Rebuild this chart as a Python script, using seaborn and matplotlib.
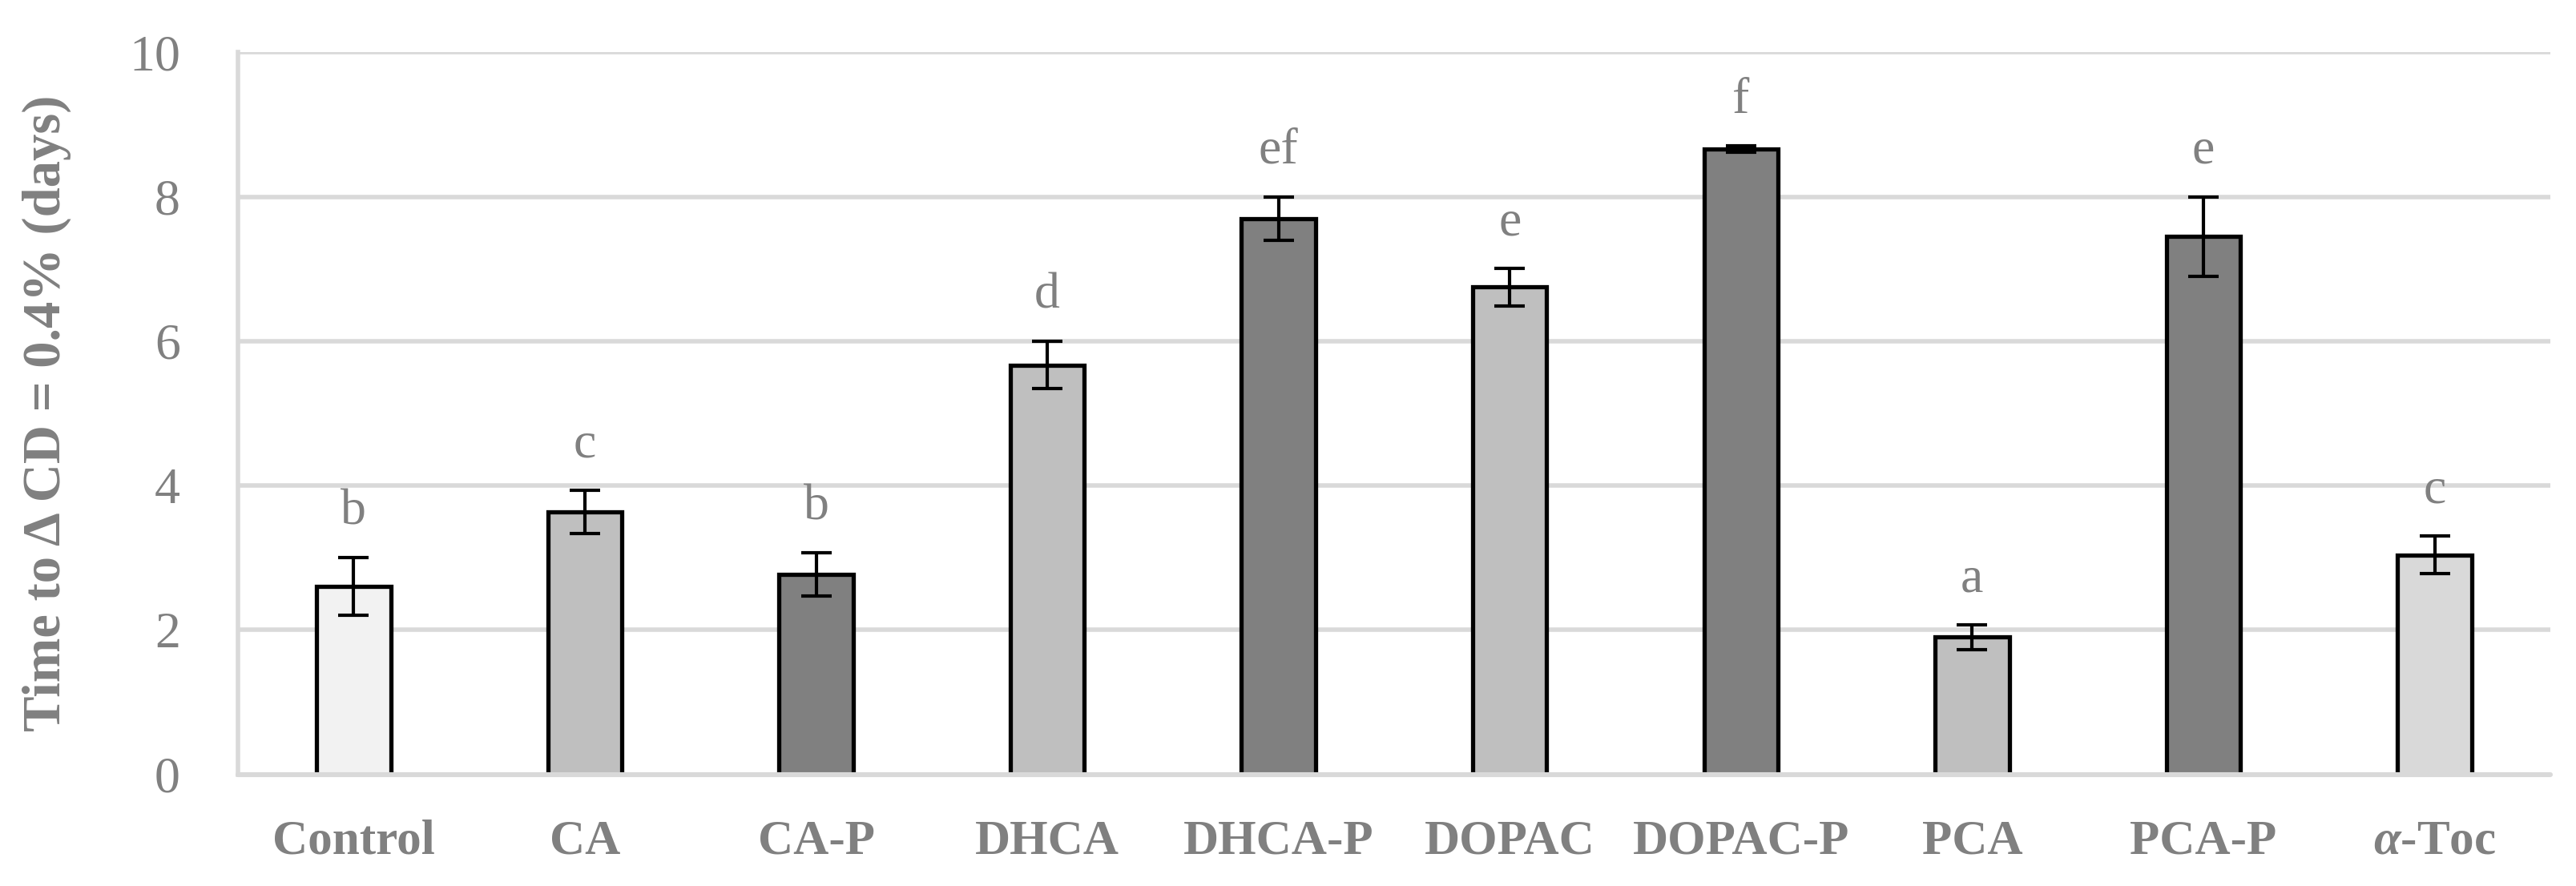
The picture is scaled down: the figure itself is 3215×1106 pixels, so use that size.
import numpy as np
import pandas as pd
import seaborn as sns
import matplotlib.pyplot as plt

# data
categories = ["Control", "CA", "CA-P", "DHCA", "DHCA-P", "DOPAC", "DOPAC-P", "PCA", "PCA-P", r"$\alpha$-Toc"]
days = [2.60, 3.63, 2.77, 5.67, 7.70, 6.75, 8.66, 1.90, 7.45, 3.04]
sd = [0.40, 0.30, 0.30, 0.33, 0.30, 0.26, 0.04, 0.17, 0.55, 0.26]
letters = ["b", "c", "b", "d", "ef", "e", "f", "a", "e", "c"]
bar_colors = ["#F2F2F2", "#BFBFBF", "#808080", "#BFBFBF", "#808080",
              "#BFBFBF", "#808080", "#BFBFBF", "#808080", "#D9D9D9"]

sns.set_style("white")
plt.rcParams['font.family'] = ['Liberation Serif', 'DejaVu Serif']
plt.rcParams['mathtext.fontset'] = 'custom'
plt.rcParams['mathtext.it'] = 'Liberation Serif:italic:bold'
plt.rcParams['mathtext.rm'] = 'Liberation Serif:bold'

grey_txt = "#808080"
grid_col = "#D9D9D9"

df = pd.DataFrame({"group": categories, "days": days})

fig = plt.figure(figsize=(16.075, 5.53), dpi=200)
ax = fig.add_axes([0.0924, 0.126, 0.8976, 0.815])

sns.barplot(data=df, x="group", y="days", hue="group", palette=bar_colors,
            order=categories, hue_order=categories, legend=False,
            width=0.32, saturation=1, edgecolor="black", linewidth=1.9,
            errorbar=None, ax=ax, zorder=2)

xpos = np.arange(len(categories))
ax.errorbar(xpos, days, yerr=sd, fmt="none", ecolor="black",
            elinewidth=1.5, capsize=6.7, capthick=1.5, zorder=3)

for x, y, e, t in zip(xpos, days, sd, letters):
    ax.annotate(t, (x, y + e), xytext=(0, 15), textcoords="offset points",
                ha="center", va="baseline", fontsize=23, color=grey_txt)

ax.set_ylim(0, 10)
ax.set_xlim(-0.5, len(categories) - 0.5)
ax.set_yticks(np.arange(0, 11, 2))
ax.yaxis.grid(True, color=grid_col, linewidth=2.0, zorder=0)
ax.set_axisbelow(True)
ax.axhline(0, color=grid_col, linewidth=2.2, zorder=4, clip_on=False)

for s in ["top", "right", "bottom"]:
    ax.spines[s].set_visible(False)
ax.spines["left"].set_color(grid_col)
ax.spines["left"].set_linewidth(2.0)

ax.tick_params(axis="y", length=0, pad=26, labelsize=23, labelcolor=grey_txt)
ax.tick_params(axis="x", length=0, pad=20, labelsize=22, labelcolor=grey_txt)
for lab in ax.get_xticklabels():
    lab.set_fontweight("bold")

ax.set_xlabel("")
ax.set_ylabel("Time to Δ CD = 0.4% (days)", fontsize=24, fontweight="bold", color=grey_txt)
ax.yaxis.set_label_coords(-0.072, 0.5)

fig.savefig("out.png", dpi=200)
